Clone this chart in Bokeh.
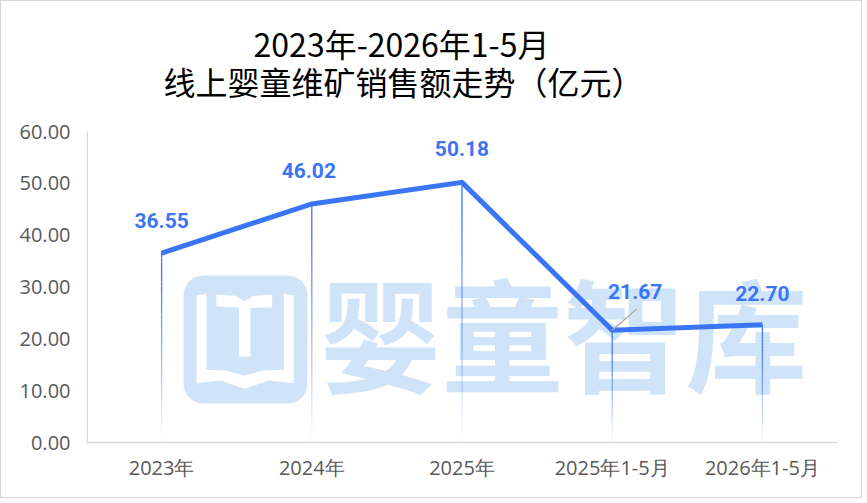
import numpy as np
from bokeh.plotting import figure
from bokeh.core.properties import value
from bokeh.models import (ColumnDataSource, FactorRange, Range1d, FixedTicker,
                          NumeralTickFormatter, LabelSet, Label,
                          BoxAnnotation, PolyAnnotation)
from bokeh.transform import dodge
from bokeh.embed import file_html
from bokeh.resources import INLINE

# ---------------- data ----------------
categories = ["2023年", "2024年", "2025年", "2025年1-5月", "2026年1-5月"]
sales = [36.55, 46.02, 50.18, 21.67, 22.70]
y_ticks = [0, 10, 20, 30, 40, 50, 60]
title_line1 = "2023年-2026年1-5月"
title_line2 = "线上婴童维矿销售额走势（亿元）"
watermark_text = "婴童智库"

# ---------------- style ----------------
BLUE = "#3a75f6"
WM = "#cfe4f9"
FONT = "Noto Sans CJK SC"
TICK_FONT = "Open Sans"
LBL_FONT = "Roboto"
label_dx = [0, -3, 0, 23, 0]
label_dy = [33, 33, 34, 39, 31]

# geometry: frame spans from the top of the chart so the titles can be drawn inside it
W, H = 862, 498
FRAME_TOP, AXIS_TOP, AXIS_BOTTOM = 9, 130, 441
Y_MAX = y_ticks[-1]
Y_TOP = Y_MAX * (AXIS_BOTTOM - FRAME_TOP) / (AXIS_BOTTOM - AXIS_TOP)

p = figure(width=W, height=H, x_range=FactorRange(factors=categories, range_padding=0),
           y_range=Range1d(0, Y_TOP), output_backend="svg", toolbar_location=None,
           min_border_left=85, min_border_right=W - 836, min_border_top=FRAME_TOP,
           min_border_bottom=H - AXIS_BOTTOM)
p.styles = {"border": "1px solid #d6d6d6"}
p.outline_line_color = None
p.background_fill_color = "white"
p.border_fill_color = "white"
p.xgrid.visible = False
p.ygrid.visible = False

# ---------------- watermark (screen units, frame-relative) ----------------
p.add_layout(BoxAnnotation(left=97, right=221, bottom=39, top=167,
                           left_units="screen", right_units="screen",
                           top_units="screen", bottom_units="screen",
                           fill_color=WM, fill_alpha=1, line_color=None,
                           border_radius=20, level="underlay"))

def logo_pts(pts):
    return [84 + zx / 3 for zx, zy in pts], [182 - zy / 3 for zx, zy in pts]

u_shape = [(78, 105), (108, 100), (108, 328), (165, 330), (222, 345), (280, 330),
           (340, 328), (340, 100), (370, 105), (370, 368), (295, 360), (222, 385),
           (150, 360), (78, 368)]
t_shape = [(138, 103), (195, 106), (222, 122), (250, 106), (305, 103), (305, 140),
           (240, 142), (240, 288), (205, 288), (205, 142), (138, 138)]
for shape in (u_shape, t_shape):
    xs, ys = logo_pts(shape)
    p.add_layout(PolyAnnotation(xs=xs, ys=ys, xs_units="screen", ys_units="screen",
                                fill_color="white", fill_alpha=1, line_color=None,
                                level="underlay"))

p.add_layout(Label(x=477, y=113, x_units="screen", y_units="screen", text=watermark_text,
                   text_font=FONT, text_font_style="bold", text_font_size="122px",
                   text_color=WM, text_align="center", text_baseline="middle",
                   level="underlay"))

# y axis line only from 0 to the top tick
p.add_layout(BoxAnnotation(left=0, right=1.5, bottom=0, top=Y_MAX,
                           left_units="screen", right_units="screen",
                           fill_color="#d9d9d9", fill_alpha=1, line_color=None))

# ---------------- drop lines with fading gradient ----------------
N = 40
x0, y0s, y1s, alphas = [], [], [], []
for c, v in zip(categories, sales):
    for k in range(N):
        x0.append(c)
        y0s.append(v * k / N)
        y1s.append(v * (k + 1) / N)
        alphas.append(min(1.0, 1.15 * (k + 0.5) / N))
p.segment(x0=x0, y0=y0s, x1=x0, y1=y1s, line_color=BLUE, line_alpha=alphas, line_width=1.3)

# ---------------- main line ----------------
src = ColumnDataSource(dict(cat=categories, val=sales,
                            txt=[f"{v:.2f}" for v in sales],
                            dx=label_dx, dy=label_dy))
p.line(x="cat", y="val", source=src, line_color=BLUE, line_width=5, line_join="miter")

# leader line for 2025年1-5月
lead = ColumnDataSource(dict(cat=[categories[3]], val=[sales[3]], val2=[sales[3] + 4.0]))
p.segment(x0="cat", y0="val", x1=dodge("cat", 0.16, range=p.x_range), y1="val2",
          source=lead, line_color="#a6a6a6", line_width=1.2)

p.add_layout(LabelSet(x="cat", y="val", text="txt", source=src, x_offset="dx", y_offset="dy",
                      text_font=value(LBL_FONT), text_font_style="bold", text_font_size="21px",
                      text_color=BLUE, text_align="center", text_baseline="middle"))

# ---------------- axes ----------------
for ax in (p.xaxis[0], p.yaxis[0]):
    ax.axis_line_color = "#d9d9d9"
    ax.axis_line_width = 1.5
    ax.major_tick_line_color = None
    ax.minor_tick_line_color = None
    ax.major_label_text_color = "#595959"
    ax.major_label_text_font = TICK_FONT
    ax.major_label_text_font_size = "20px"
p.yaxis.axis_line_color = None
p.yaxis.ticker = FixedTicker(ticks=y_ticks)
p.yaxis.formatter = NumeralTickFormatter(format="0.00")
p.yaxis.major_label_standoff = 10
p.xaxis.major_label_standoff = 5

# ---------------- titles (frame-relative screen units) ----------------
p.add_layout(Label(x=315, y=AXIS_BOTTOM - 41, x_units="screen", y_units="screen",
                   text=title_line1, text_font=FONT, text_font_size="32px", text_color="black",
                   text_align="center", text_baseline="middle"))
p.add_layout(Label(x=317, y=AXIS_BOTTOM - 79, x_units="screen", y_units="screen",
                   text=title_line2, text_font=FONT, text_font_size="32px", text_color="black",
                   text_align="center", text_baseline="middle"))

open("out.html", "w").write(file_html(p, INLINE))
